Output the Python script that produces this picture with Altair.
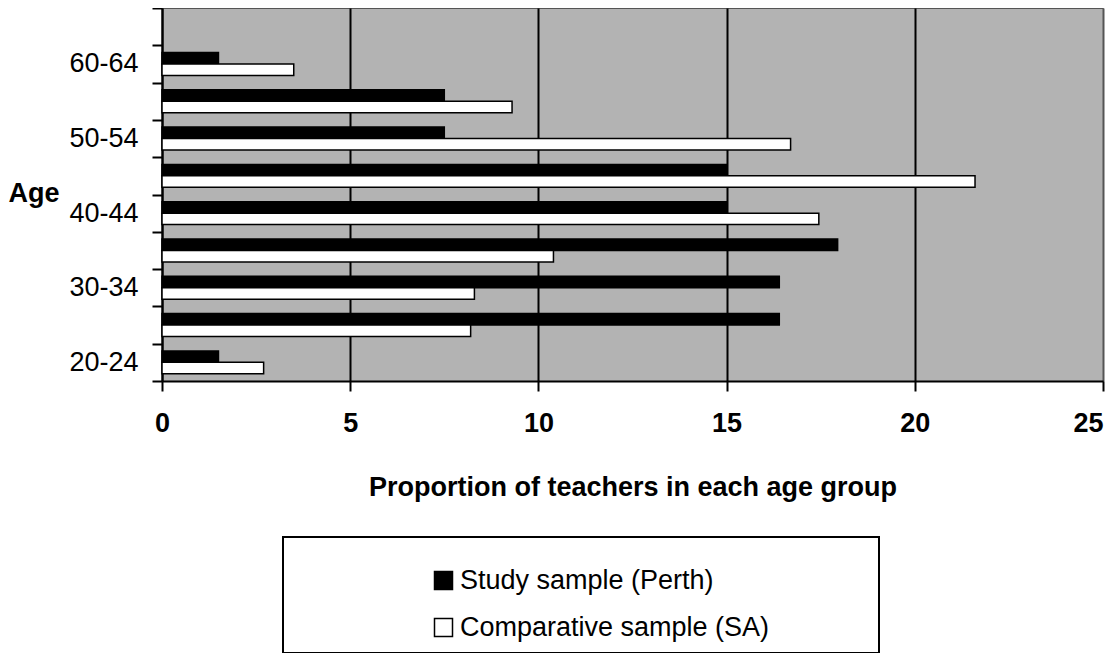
import json
import altair as alt
import pandas as pd

# ---- data ----
ages = ["20-24", "25-29", "30-34", "35-39", "40-44", "45-49", "50-54", "55-59", "60-64", "65-69"]
shown_labels = ["20-24", "30-34", "40-44", "50-54", "60-64"]
series = ["Study sample (Perth)", "Comparative sample (SA)"]
perth = [1.5, 16.4, 16.4, 17.95, 15.0, 15.0, 7.5, 7.5, 1.5]
sa = [2.7, 8.2, 8.3, 10.4, 17.45, 21.6, 16.7, 9.3, 3.5]
x_ticks = [0, 5, 10, 15, 20, 25]

rows = []
for i, a in enumerate(ages[: len(perth)]):
    rows.append({"age": a, "series": series[0], "value": perth[i]})
    rows.append({"age": a, "series": series[1], "value": sa[i]})
df = pd.DataFrame(rows)

FONT = "Liberation Sans"
NBSP = "\u00a0"
ZWSP = "\u200b"
label_expr = "indexof(" + json.dumps(shown_labels) + ", datum.value) >= 0 ? datum.value : ''"
# trailing padding inside the legend frame (kept from being trimmed by a zero-width char)
legend_label_expr = "datum.label + '" + NBSP * 13 + ZWSP + "'"

chart = (
    alt.Chart(df)
    .mark_bar(stroke="black", strokeWidth=1.5)
    .encode(
        x=alt.X(
            "value:Q",
            scale=alt.Scale(domain=[0, 25], nice=False),
            axis=alt.Axis(
                values=x_ticks,
                format="d",
                title="Proportion of teachers in each age group",
                titleFont=FONT,
                titleFontSize=27,
                titleFontWeight="bold",
                titleColor="black",
                titleBaseline="alphabetic",
                titleY=114,
                labelFont=FONT,
                labelFontSize=27,
                labelFontWeight="bold",
                labelColor="black",
                labelPadding=19,
                labelFlush=False,
                labelAlign=alt.condition("datum.value == 25", alt.value("right"), alt.value("center")),
                tickSize=10,
                tickWidth=2,
                tickColor="black",
                domainColor="black",
                domainWidth=2,
                grid=True,
                gridColor=alt.condition("datum.value == 25", alt.value("#555555"), alt.value("black")),
                gridWidth=2,
            ),
        ),
        y=alt.Y(
            "age:N",
            scale=alt.Scale(domain=ages[::-1], paddingInner=0, paddingOuter=0),
            axis=alt.Axis(
                title="Age",
                titleAngle=0,
                titleAlign="right",
                titleBaseline="alphabetic",
                titleX=-103,
                titleY=193,
                titleFont=FONT,
                titleFontSize=27,
                titleFontWeight="bold",
                titleColor="black",
                labelExpr=label_expr,
                labelFont=FONT,
                labelFontSize=27,
                labelColor="black",
                labelPadding=14,
                tickBand="extent",
                tickSize=10,
                tickWidth=2,
                tickColor="black",
                domainColor="black",
                domainWidth=2,
                grid=False,
            ),
        ),
        yOffset=alt.YOffset(
            "series:N",
            scale=alt.Scale(domain=series, paddingInner=0, paddingOuter=0.63),
        ),
        color=alt.Color(
            "series:N",
            scale=alt.Scale(domain=series, range=["black", "white"]),
            legend=alt.Legend(
                orient="none",
                legendX=121,
                legendY=529,
                title=NBSP,
                titleFontSize=12,
                titlePadding=6,
                direction="vertical",
                strokeColor="black",
                fillColor="white",
                padding=12,
                rowPadding=19,
                labelFont=FONT,
                labelFontSize=27,
                labelColor="black",
                labelExpr=legend_label_expr,
                symbolType="square",
                symbolSize=324,
                symbolStrokeColor="black",
                symbolStrokeWidth=1.5,
                symbolOffset=135,
                labelOffset=3,
                labelLimit=800,
            ),
        ),
    )
    .properties(
        width=941,
        height=373,
        background="white",
        autosize=alt.AutoSizeParams(type="none"),
        padding={"left": 154, "top": 0, "right": 5, "bottom": 272},
    )
    .configure_view(fill="#b3b3b3", stroke="#555555", strokeWidth=1)
    .configure_legend(strokeWidth=2)
)

chart.save("out.html", embed_options={"renderer": "svg", "actions": False})
